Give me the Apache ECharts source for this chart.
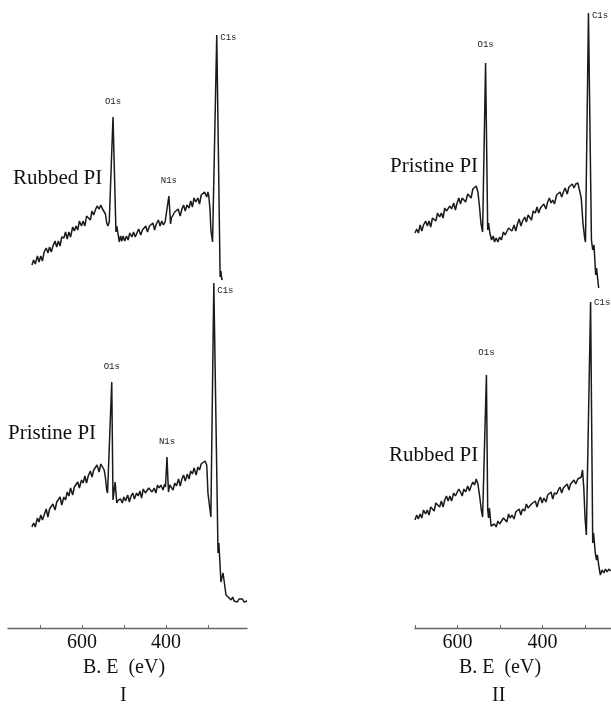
<!DOCTYPE html>
<html>
<head>
<meta charset="utf-8">
<script src="https://cdn.jsdelivr.net/npm/echarts@6/dist/echarts.min.js"></script>
<style>
html,body{margin:0;padding:0;background:#fff;}
#chart{width:611px;height:706px;}
</style>
</head>
<body>
<div id="chart"></div>
<script>
// ---- Data (binding energy eV, intensity a.u.) ----
const tickEnergies = [700, 600, 500, 400, 300];
const labelEnergies = [600, 400];
const axisTitle = 'B. E  (eV)';
const panelNames = ['I', 'II'];

// Panel I, upper trace
const rubbedI = [[719,363],[715,368],[711,364],[706,372],[702,366],[698,372],[694,367],[690,376],[685,380],[681,375],[677,381],[673,376],[669,382],[664,387],[660,381],[656,387],[652,382],[648,391],[643,390],[639,396],[635,389],[631,396],[627,391],[622,401],[618,397],[614,402],[610,398],[606,407],[601,402],[597,407],[593,402],[589,412],[585,410],[580,408],[576,417],[572,413],[568,418],[564,422],[559,419],[555,423],[551,419],[547,421],[544,414],[541,405],[538,402],[535,406],[533,404],[526,511],[519,396],[517,402],[514,394],[511,386],[508,392],[505,387],
[502,392],[498,387],[494,392],[490,388],[486,395],[481,391],[477,396],[473,391],[469,395],[465,399],[460,393],[456,398],[452,396],[448,402],[444,396],[439,402],[435,400],[431,405],[427,398],[423,404],[418,408],[414,402],[410,407],[406,403],[402,406],
[399,404],[393,432],[389,404],[387,410],
[383,409],[379,416],[375,414],[371,419],[366,412],[362,419],[358,423],[354,417],[350,423],[345,420],[341,427],[337,421],[333,430],[329,426],[324,430],[320,424],[316,433],[312,431],[308,436],[303,431],[300,436],
[298,432],[295,418],[293,398],[289,386],[279,593],[271,351],[269,357],[267,348],[266,350]];

// Panel I, lower trace
const pristineI = [[719,101],[715,105],[711,101],[706,110],[702,106],[698,113],[694,108],[690,113],[685,119],[681,111],[677,119],[673,117],[669,124],[664,118],[660,126],[656,124],[652,131],[648,123],[643,131],[639,128],[635,136],[631,132],[627,140],[622,133],[618,141],[614,140],[610,146],[606,140],[601,148],[597,145],[593,152],[589,145],[585,152],[580,157],[576,151],[572,158],[568,156],[564,163],[559,156],[555,164],[551,163],[547,158],[544,150],[541,138],[539,135],[529,246],[526,128],[521,146],[517,125],[513,128],
[508,129],[504,125],[500,131],[496,127],[491,133],[487,126],[483,132],[479,135],[475,129],[470,135],[466,132],[462,137],[458,130],[454,139],[449,135],[445,133],[441,140],[437,142],[433,136],[428,140],[424,135],[420,143],[416,140],[412,143],[407,138],[403,144],
[401,141],[397.5,171],[394,136],[391,143],
[387,142],[383,138],[379,145],[375,142],[370,149],[366,142],[362,149],[358,153],[354,147],[349,154],[345,149],[341,157],[337,154],[333,160],[328,153],[324,161],[320,158],[316,164],[312,162],[307,167],[303,163],
[302,156],[300,135],[293,111],[286,345],[276,75],[274,85],[269,46],[264,55],[257,33],[252,31],[248,30],[245,28],[241,31],[238,27],[234,29],[230,26],[226,29],[222,27],[218,29],[214,26],[210,28],[207,27]];

// Panel II, upper trace
const pristineII = [[700,395],[696,399],[692,395],[688,403],[684,397],[680,403],[675,407],[671,402],[667,407],[663,401],[659,410],[655,409],[651,407],[647,415],[642,411],[638,415],[634,410],[630,420],[626,417],[622,415],[618,422],[614,419],[609,425],[605,418],[601,425],[597,430],[593,424],[589,430],[585,428],[581,426],[576,434],[572,432],[568,430],[564,439],[560,437],[556,442],[552,436],[548,420],[545,405],[541,396],[534,565],[529,398],[527,405],[524,395],[520,388],[516,392],[513,386],
[509,390],[505,386],[501,391],[497,388],[492,396],[488,393],[484,392],[480,400],[476,398],[472,397],[467,403],[463,397],[459,404],[455,409],[451,402],[447,407],[442,411],[438,406],[434,413],[430,411],[426,408],[422,417],[417,415],[413,421],[409,415],[405,420],[401,418],[397,424],[392,419],[388,426],[384,430],[380,425],[376,428],[372,424],[367,433],[363,431],[359,436],[355,431],[351,436],[347,440],[342,434],[338,441],[334,440],[330,444],[326,440],[322,444],[317,445],[313,447],
[309,430],[305,405],[301,390],[299,386],[292,615],[285,388],[282,378],[279,383],[275,353],[273,360],[268,340]];

// Panel II, lower trace
const rubbedII = [[700,108],[696,113],[692,109],[688,114],[684,110],[680,118],[675,114],[671,118],[667,113],[663,121],[659,119],[655,117],[651,125],[647,123],[642,121],[638,127],[634,121],[630,128],[626,132],[622,127],[618,132],[614,127],[609,135],[605,132],[601,131],[597,139],[593,136],[589,132],[585,139],[581,136],[576,142],[572,137],[568,142],[564,146],[560,143],[556,149],[552,144],[548,132],[544,118],[541,111],[532,253],[529,118],[527,110],[525,120],[521,102],[518,100],
[513,104],[509,101],[505,107],[501,104],[497,102],[492,110],[488,108],[484,106],[480,114],[476,110],[472,113],[467,109],[463,116],[459,114],[455,119],[451,113],[447,119],[442,117],[438,124],[434,120],[430,118],[426,124],[422,122],[417,127],[413,121],[409,127],[405,131],[401,125],[397,130],[392,126],[388,133],[384,131],[380,136],[376,129],[372,135],[367,134],[363,138],[359,141],[355,135],[351,140],[347,139],[342,144],[338,138],[334,144],[330,143],[326,148],[322,144],[317,149],[313,148],
[309,151],[306,158],[303,140],[300,110],[297,93],[287,326],[282,85],[280,95],[276,75],[273,68],[271,73],[267,60],[264,53],[260,58],[256,55],[252,59],[248,56],[244,59],[240,57]];

// Peak annotations: [label, energy, intensity]
const peaksRubbedI = [['O1s',526,511],['N1s',393,432],['C1s',279,593]];
const peaksPristineI = [['O1s',529,246],['N1s',397.5,171],['C1s',286,345]];
const peaksPristineII = [['O1s',534,565],['C1s',292,615]];
const peaksRubbedII = [['O1s',532,253],['C1s',287,326]];

const traceNames = ['Rubbed PI', 'Pristine PI', 'Pristine PI', 'Rubbed PI'];

// ---- Styling ----
const serif = '"Liberation Serif", "Times New Roman", serif';
const mono = '"Liberation Mono", "DejaVu Sans Mono", monospace';

function markPeaks(peaks, topDist, c1sOffsetY) {
  return {
    symbol: 'circle', symbolSize: 1,
    itemStyle: { color: 'rgba(0,0,0,0)' },
    silent: true,
    data: peaks.map(p => ({
      name: p[0], coord: [p[1], p[2]],
      label: p[0] === 'C1s'
        ? { position: 'right', distance: 3, offset: [0, c1sOffsetY] }
        : { position: 'top', distance: topDist }
    })),
    label: { show: true, formatter: '{b}', fontFamily: mono, fontSize: 9, color: '#222' }
  };
}

function lineSeries(data, idx, peaks, topDist, c1sOffsetY, name) {
  return {
    type: 'line', name: name, xAxisIndex: idx, yAxisIndex: idx,
    data: data, showSymbol: false, symbol: 'none', smooth: false,
    lineStyle: { color: '#1a1a1a', width: 1.5 },
    markPoint: markPeaks(peaks, topDist, c1sOffsetY),
    z: 3
  };
}

function xAxisCfg(idx, min, max, namePadRight) {
  return {
    gridIndex: idx, type: 'value', inverse: true, min: min, max: max,
    axisLine: { show: true, onZero: false, lineStyle: { color: '#666', width: 1.4 } },
    axisTick: { show: true, inside: true, length: 3, customValues: tickEnergies, lineStyle: { color: '#666', width: 1 } },
    axisLabel: { show: true, customValues: labelEnergies, margin: 5, fontFamily: serif, fontSize: 20, color: '#111' },
    splitLine: { show: false },
    name: axisTitle, nameLocation: 'middle', nameGap: 29,
    nameTextStyle: { fontFamily: serif, fontSize: 20, color: '#111', padding: [0, namePadRight, 0, 0] }
  };
}

const chart = echarts.init(document.getElementById('chart'), null, { renderer: 'canvas' });
const option = {
  animation: false,
  backgroundColor: '#ffffff',
  grid: [
    { left: 8, top: 0, width: 239, height: 628 },
    { left: 415, top: 0, width: 196, height: 628 }
  ],
  xAxis: [ xAxisCfg(0, 207, 776, 7), xAxisCfg(1, 239, 700, 26) ],
  yAxis: [
    { gridIndex: 0, type: 'value', min: 0, max: 628, show: false },
    { gridIndex: 1, type: 'value', min: 0, max: 628, show: false }
  ],
  series: [
    lineSeries(rubbedI, 0, peaksRubbedI, 10, 3, traceNames[0]),
    lineSeries(pristineI, 0, peaksPristineI, 10, 8, traceNames[1]),
    lineSeries(pristineII, 1, peaksPristineII, 13, 3, traceNames[2]),
    lineSeries(rubbedII, 1, peaksRubbedII, 17, 1, traceNames[3])
  ],
  graphic: [
    { type: 'text', left: 13, top: 168, style: { text: traceNames[0], font: '21px ' + serif, fill: '#111' } },
    { type: 'text', left: 8, top: 423, style: { text: traceNames[1], font: '21px ' + serif, fill: '#111' } },
    { type: 'text', left: 390, top: 156, style: { text: traceNames[2], font: '21px ' + serif, fill: '#111' } },
    { type: 'text', left: 389, top: 445, style: { text: traceNames[3], font: '21px ' + serif, fill: '#111' } },
    { type: 'text', left: 120, top: 686, style: { text: panelNames[0], font: '20px ' + serif, fill: '#111' } },
    { type: 'text', left: 492, top: 686, style: { text: panelNames[1], font: '20px ' + serif, fill: '#111' } }
  ]
};
chart.setOption(option);
</script>
</body>
</html>
